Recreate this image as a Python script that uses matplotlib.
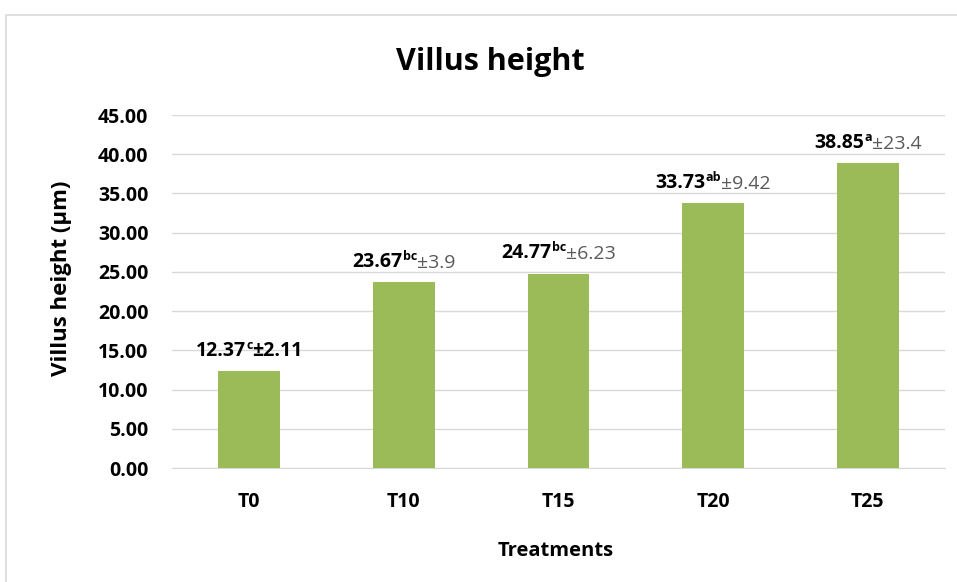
import matplotlib
matplotlib.use('Agg')
import matplotlib.pyplot as plt
from matplotlib.patches import Rectangle

# data
treatments = ['T0', 'T10', 'T15', 'T20', 'T25']
heights = [12.37, 23.67, 24.77, 33.73, 38.85]
letters = ['c', 'bc', 'bc', 'ab', 'a']
sds = ['2.11', '3.9', '6.23', '9.42', '23.4']

plt.rcParams['font.family'] = ['Open Sans', 'DejaVu Sans']

W, H = 957, 582
fig = plt.figure(figsize=(W / 100, H / 100), dpi=100)
ax = fig.add_axes([172 / W, 1 - 468 / H, (945 - 172) / W, (468 - 115) / H])

# chart border
fig.patches.append(Rectangle((6 / W, -0.1), 1.2, 1 - 15 / H + 0.1, transform=fig.transFigure,
                             fill=False, edgecolor='#d9d9d9', linewidth=1.2))

x = range(len(treatments))
ax.bar(x, heights, width=0.4, color='#9BBB59', zorder=3)

ax.set_ylim(0, 45)
ax.set_xlim(-0.5, len(treatments) - 0.5)
ax.set_yticks([i * 5 for i in range(10)])
ax.set_yticklabels(['%.2f' % (i * 5) for i in range(10)])
ax.yaxis.grid(True, color='#d9d9d9', linewidth=1, zorder=0)
ax.set_axisbelow(True)
for s in ['top', 'right', 'left']:
    ax.spines[s].set_visible(False)
ax.spines['bottom'].set_color('#d9d9d9')
ax.tick_params(axis='y', length=0, labelsize=14, pad=17)
ax.tick_params(axis='x', length=0, labelsize=14, pad=17)
ax.set_xticks(list(x))
ax.set_xticklabels(treatments)
for lbl in ax.get_xticklabels() + ax.get_yticklabels():
    lbl.set_fontweight('bold')

fig.text(62 / W, 1 - 278 / H, 'Villus height (µm)', rotation=90, ha='center', va='center',
         fontsize=16, fontweight='bold')
fig.text(556 / W, 1 - 551 / H, 'Treatments', ha='center', va='center',
         fontsize=14.5, fontweight='bold')
fig.text(490 / W, 1 - 70 / H, 'Villus height', ha='center', va='baseline',
         fontsize=22, fontweight='bold')

# value labels: bold number, superscript letter, then ± sd
groups = []
for i, (h, let, sd) in enumerate(zip(heights, letters, sds)):
    t1 = ax.annotate('%.2f' % h, xy=(i, h), xytext=(0, 11), textcoords='offset points',
                     ha='left', va='baseline', fontsize=14, fontweight='bold', color='black')
    t2 = ax.annotate(let, xy=(1, 0.45), xycoords=t1,
                     ha='left', va='bottom', fontsize=9, fontweight='bold', color='black')
    sd_col = 'black' if i == 0 else '#595959'
    sd_w = 'bold' if i == 0 else 'normal'
    t3 = ax.annotate('±' + sd, xy=(1, 0), xycoords=(t2, t1),
                     ha='left', va='bottom',
                     fontsize=14, fontweight=sd_w, color=sd_col)
    groups.append((t1, t2, t3))

fig.canvas.draw()
r = fig.canvas.get_renderer()
for i, (t1, t2, t3) in enumerate(groups):
    b1 = t1.get_window_extent(r)
    b3 = t3.get_window_extent(r)
    total = b3.x1 - b1.x0
    t1.xyann = (-total / 2 * 72 / fig.dpi, 11)

fig.savefig('out.png', dpi=100)
